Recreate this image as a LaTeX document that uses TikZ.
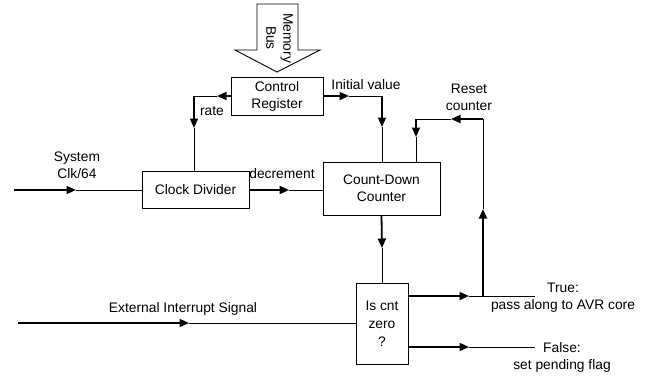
\documentclass[tikz,border=0pt]{standalone}
\usepackage{fontspec}
\setmainfont{Liberation Sans}
\usetikzlibrary{arrows.meta}
\tikzset{
  box/.style={draw, line width=0.9pt, inner sep=0pt, align=center},
  lbl/.style={inner sep=0pt, align=center},
  thickline/.style={line width=1.8pt, -{Triangle[length=9.5pt,width=8pt]}},
  thinline/.style={line width=1pt}
}
\newcommand\flowseg[3]{\draw[thickline] #1 -- #2; \draw[thinline] #2 -- #3;}
\begin{document}
\begin{tikzpicture}[x=1pt,y=-1pt,font=\fontsize{13.8}{17}\selectfont]
\useasboundingbox (0,0) rectangle (646,376);
% memory bus block arrow
\draw[line width=0.9pt] (257,4) -- (298,4) -- (298,50) -- (320,50) -- (277,72) -- (235,50) -- (257,50) -- cycle;
\node[lbl, rotate=-90] (mbus) at (279.5,38) {Memory\\Bus};
% boxes
\node[box, minimum width=92pt, minimum height=38pt] (cr) at (277,96) {Control\\Register};
\node[box, minimum width=107pt, minimum height=37pt] (cd) at (195.5,189.5) {Clock Divider};
\node[box, minimum width=117pt, minimum height=53pt] (cdc) at (381.5,188.5) {Count-Down\\Counter};
\node[box, minimum width=52pt, minimum height=81pt, font=\fontsize{13.8}{18}\selectfont] (isz) at (382,323.5) {Is cnt\\zero\\?};
% coordinates
\coordinate (rA) at (217,96);
\coordinate (rC) at (194,96);
\coordinate (rB) at (194,128);
\coordinate (iA) at (349,96);
\coordinate (iC) at (382,96);
\coordinate (iB) at (382,127);
\coordinate (clkin) at (14,190);
\coordinate (clkA) at (76,190);
\coordinate (decA) at (289,190);
\coordinate (dnA) at (382,248);
\coordinate (extin) at (18,323);
\coordinate (extA) at (189,323);
\coordinate (tS) at (408,296);
\coordinate (tA) at (469,296);
\coordinate (tJ) at (483,296);
\coordinate (tE) at (535,296);
\coordinate (fS) at (408,347);
\coordinate (fA) at (469,347);
\coordinate (fE) at (535,347);
\coordinate (reA) at (483,209);
\coordinate (reC) at (483,119);
\coordinate (reB) at (451,119);
\coordinate (reD) at (416,119);
\coordinate (reF) at (416,137);
% rate
\flowseg{(cr.west |- rA)}{(rA)}{(rC)}
\flowseg{(rC)}{(rB)}{(rB |- cd.north)}
% initial value
\flowseg{(cr.east |- iA)}{(iA)}{(iC)}
\flowseg{(iC)}{(iB)}{(iB |- cdc.north)}
% system clock
\flowseg{(clkin)}{(clkA)}{(cd.west |- clkA)}
% decrement
\flowseg{(cd.east |- decA)}{(decA)}{(cdc.west |- decA)}
% count-down to test
\flowseg{(cdc.south)}{(dnA)}{(isz.north)}
% external interrupt
\flowseg{(extin)}{(extA)}{(isz.west |- extA)}
% true / false
\flowseg{(tS)}{(tA)}{(tE)}
\flowseg{(fS)}{(fA)}{(fE)}
% reset loop
\flowseg{(tJ)}{(reA)}{(reC)}
\flowseg{(reC)}{(reB)}{(reD)}
\flowseg{(reD)}{(reF)}{(reF |- cdc.north)}
% labels
\node[lbl] (lrate) at (212,111) {rate};
\node[lbl] (linit) at (366,85) {Initial value};
\node[lbl] (lclk) at (77,165) {System\\Clk/64};
\node[lbl] (ldec) at (282,174) {decrement};
\node[lbl] (lreset) at (469,97) {Reset\\counter};
\node[lbl] (ltrue) at (563,297.5) {True:\\pass along to AVR core};
\node[lbl] (lfalse) at (562,357) {False:\\set pending flag};
\node[lbl] (lext) at (183,309) {External Interrupt Signal};
\end{tikzpicture}
\end{document}
